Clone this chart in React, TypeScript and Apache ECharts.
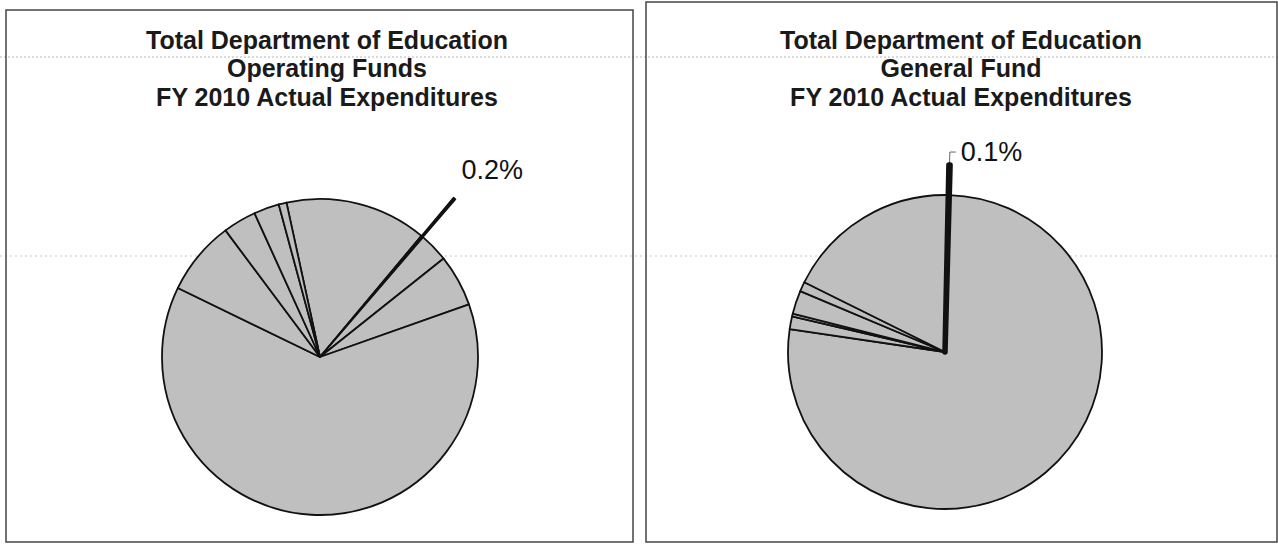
import React, { useEffect, useRef } from "react";
import * as echarts from "echarts";

// ---- data ----
const leftTitle = ["Total Department of Education", "Operating Funds", "FY 2010 Actual Expenditures"];
const rightTitle = ["Total Department of Education", "General Fund", "FY 2010 Actual Expenditures"];

// Operating Funds shares (%), clockwise
const leftNames = ["A", "B", "C", "D", "E", "F", "G", "H", "I"];
const leftValues = [14.5, 0.2, 3.0, 5.3, 62.6, 7.6, 3.4, 2.6, 0.8];
const leftLabelled = 1; // slice carrying the "0.2%" label

// General Fund shares (%), clockwise
const rightNames = ["A", "B", "C", "D", "E", "F", "G"];
const rightValues = [0.1, 76.9, 1.3, 0.3, 2.4, 1.0, 18.0];
const rightLabelled = 0; // slice carrying the "0.1%" label

const FONT = "'Liberation Sans', Arial, sans-serif";
const GRAY = "#bfbfbf";
const INK = "#111";

function mainData(names: string[], values: number[], hi: number) {
  return values.map((v, i) => ({
    name: names[i],
    value: v,
    itemStyle: { color: i === hi ? INK : GRAY },
  }));
}

function outerData(names: string[], values: number[], hi: number, border: number, label: any, labelLine: any) {
  return values.map((v, i) => ({
    name: names[i],
    value: v,
    itemStyle:
      i === hi
        ? { color: INK, borderColor: INK, borderWidth: border }
        : { color: "rgba(0,0,0,0)", borderWidth: 0 },
    label: i === hi ? label : { show: false },
    labelLine: i === hi ? labelLine : { show: false },
  }));
}

export default function App() {
  const ref = useRef<HTMLDivElement>(null);
  useEffect(() => {
    if (!ref.current) return;
    const chart = echarts.init(ref.current, null, { renderer: "svg" });

    const labelText = {
      show: true,
      position: "outside",
      formatter: "{d}%",
      fontSize: 27,
      fontFamily: FONT,
      color: INK,
    };
    const leftLabel = { ...labelText, distanceToLabelLine: -17 };
    const leftLine = { show: false, length: 37, length2: 0 };
    const rightLabel = { ...labelText, distanceToLabelLine: 5 };
    const rightLine = { show: true, length: 13, length2: 6, lineStyle: { color: "#666", width: 1 } };

    const mainStyle = { borderColor: INK, borderWidth: 1.8 };
    const titleStyle = { fontSize: 25, fontWeight: "bold", fontFamily: FONT, color: "#1a1a1a", lineHeight: 28.3 };

    chart.setOption({
      animation: false,
      backgroundColor: "#ffffff",
      title: [
        { text: leftTitle.join("\n"), left: 327, top: 26, padding: 0, textAlign: "center", textStyle: titleStyle },
        { text: rightTitle.join("\n"), left: 961, top: 26, padding: 0, textAlign: "center", textStyle: titleStyle },
      ],
      graphic: [
        { type: "line", z: 0, silent: true, shape: { x1: 0, y1: 57, x2: 1278, y2: 57 }, style: { stroke: "#b5b5b5", lineWidth: 1, lineDash: [2, 2] } },
        { type: "line", z: 0, silent: true, shape: { x1: 0, y1: 256, x2: 1278, y2: 256 }, style: { stroke: "#c5c5c5", lineWidth: 1, lineDash: [2, 3] } },
        { type: "rect", z: 0, silent: true, shape: { x: 6, y: 10, width: 627, height: 532 }, style: { fill: "none", stroke: "#444", lineWidth: 1.5 } },
        { type: "rect", z: 0, silent: true, shape: { x: 646, y: 2, width: 631, height: 540 }, style: { fill: "none", stroke: "#444", lineWidth: 1.5 } },
      ],
      series: [
        {
          type: "pie",
          silent: true,
          center: [320, 357],
          radius: 158,
          startAngle: 102.25,
          clockwise: true,
          avoidLabelOverlap: false,
          percentPrecision: 1,
          label: { show: false },
          labelLine: { show: false },
          itemStyle: mainStyle,
          data: mainData(leftNames, leftValues, leftLabelled),
        },
        {
          type: "pie",
          silent: true,
          center: [320, 357],
          radius: 208,
          startAngle: 102.25,
          clockwise: true,
          avoidLabelOverlap: false,
          percentPrecision: 1,
          data: outerData(leftNames, leftValues, leftLabelled, 1.4, leftLabel, leftLine),
        },
        {
          type: "pie",
          silent: true,
          center: [945, 352],
          radius: 157,
          startAngle: 88.8,
          clockwise: true,
          avoidLabelOverlap: false,
          percentPrecision: 1,
          label: { show: false },
          labelLine: { show: false },
          itemStyle: mainStyle,
          data: mainData(rightNames, rightValues, rightLabelled),
        },
        {
          type: "pie",
          silent: true,
          center: [945, 352],
          radius: 187,
          startAngle: 88.8,
          clockwise: true,
          avoidLabelOverlap: false,
          percentPrecision: 1,
          data: outerData(rightNames, rightValues, rightLabelled, 5.5, rightLabel, rightLine),
        },
      ],
    });
    return () => chart.dispose();
  }, []);

  return (
    <div
      ref={ref}
      style={{ position: "absolute", left: 0, top: 0, width: 1278, height: 544, background: "#fff" }}
    />
  );
}
